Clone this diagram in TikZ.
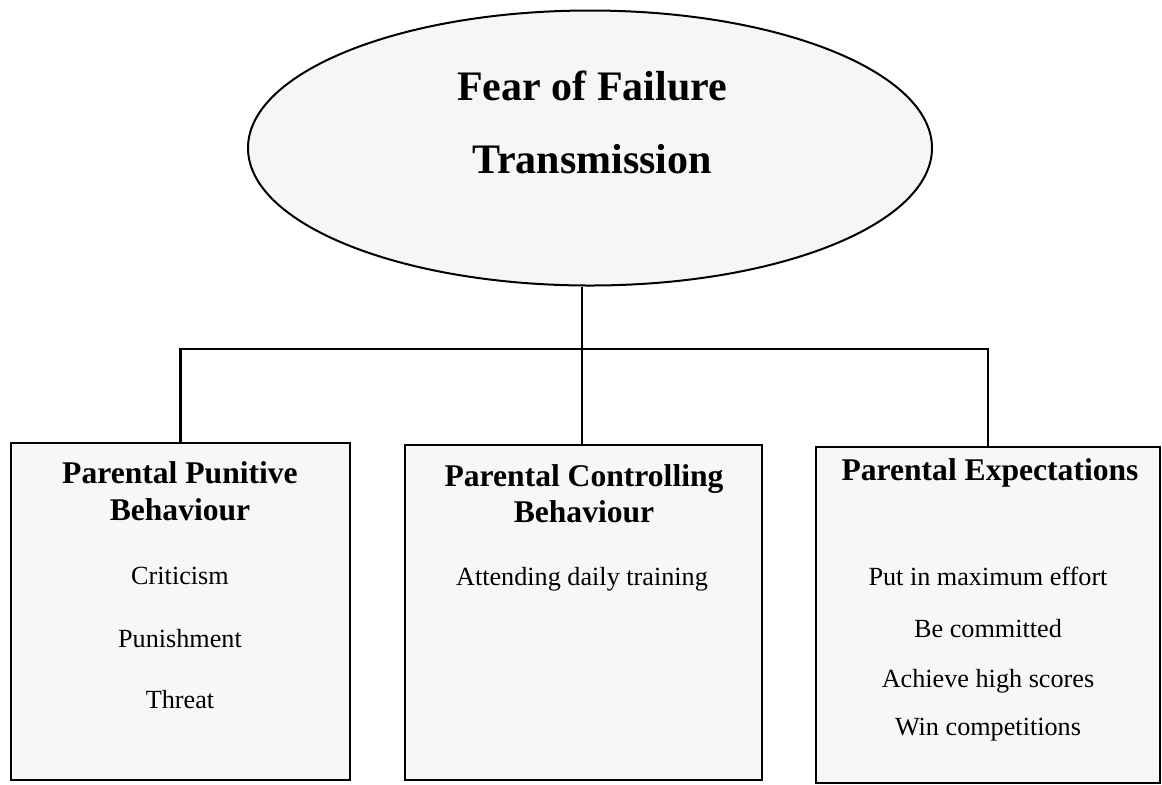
\documentclass[tikz,border=0pt]{standalone}
\usepackage{fontspec}
\setmainfont{Liberation Serif}
\usetikzlibrary{shapes.geometric}

\tikzset{
  rootshape/.style={ellipse, draw=black, line width=1pt, fill=gray!7, inner sep=0pt},
  groupbox/.style={rectangle, draw=black, line width=0.8pt, fill=gray!6, inner sep=0pt},
  roottext/.style={anchor=base, font=\fontsize{21}{25}\selectfont\bfseries},
  headtext/.style={anchor=base, font=\fontsize{15.8}{19}\selectfont\bfseries},
  itemtext/.style={anchor=base, font=\fontsize{13.1}{16}\selectfont},
  link/.style={draw=black, line width=1.3pt}
}

\begin{document}
\begin{tikzpicture}[x=0.5pt, y=-0.5pt]
  \useasboundingbox (0,0) rectangle (1162,784);

  % root ellipse
  \node[rootshape, minimum width=342pt, minimum height=137.5pt] (root) at (590,148) {};
  \node[roottext] (rootA) at (592,100) {Fear of Failure};
  \node[roottext] (rootB) at (592,173) {Transmission};

  % the three groups
  \node[groupbox, minimum width=169.5pt, minimum height=168.5pt] (punitive) at (180.5,611.5) {};
  \node[groupbox, minimum width=178.5pt, minimum height=167.5pt] (control) at (583.5,612.5) {};
  \node[groupbox, minimum width=172pt, minimum height=168pt] (expect) at (988,615) {};

  % branch lines
  \coordinate (hub) at (582,349);
  \draw[link] (root.south -| hub) -- (hub);
  \draw[link] (punitive.north) -- (punitive.north |- hub) -- (expect.north |- hub) -- (expect.north);
  \draw[link] (hub) -- (control.north -| hub);

  % left box
  \node[headtext] (punA) at (180,483) {Parental Punitive};
  \node[headtext] (punB) at (180,520) {Behaviour};
  \node[itemtext] (pun1) at (180,584) {Criticism};
  \node[itemtext] (pun2) at (180,647) {Punishment};
  \node[itemtext] (pun3) at (180,708) {Threat};

  % middle box
  \node[headtext] (conA) at (584,486) {Parental Controlling};
  \node[headtext] (conB) at (584,522) {Behaviour};
  \node[itemtext] (con1) at (582,585) {Attending daily training};

  % right box
  \node[headtext] (expA) at (990,480) {Parental Expectations};
  \node[itemtext] (exp1) at (988,585) {Put in maximum effort};
  \node[itemtext] (exp2) at (988,637) {Be committed};
  \node[itemtext] (exp3) at (988,687) {Achieve high scores};
  \node[itemtext] (exp4) at (988,735) {Win competitions};

\end{tikzpicture}
\end{document}
